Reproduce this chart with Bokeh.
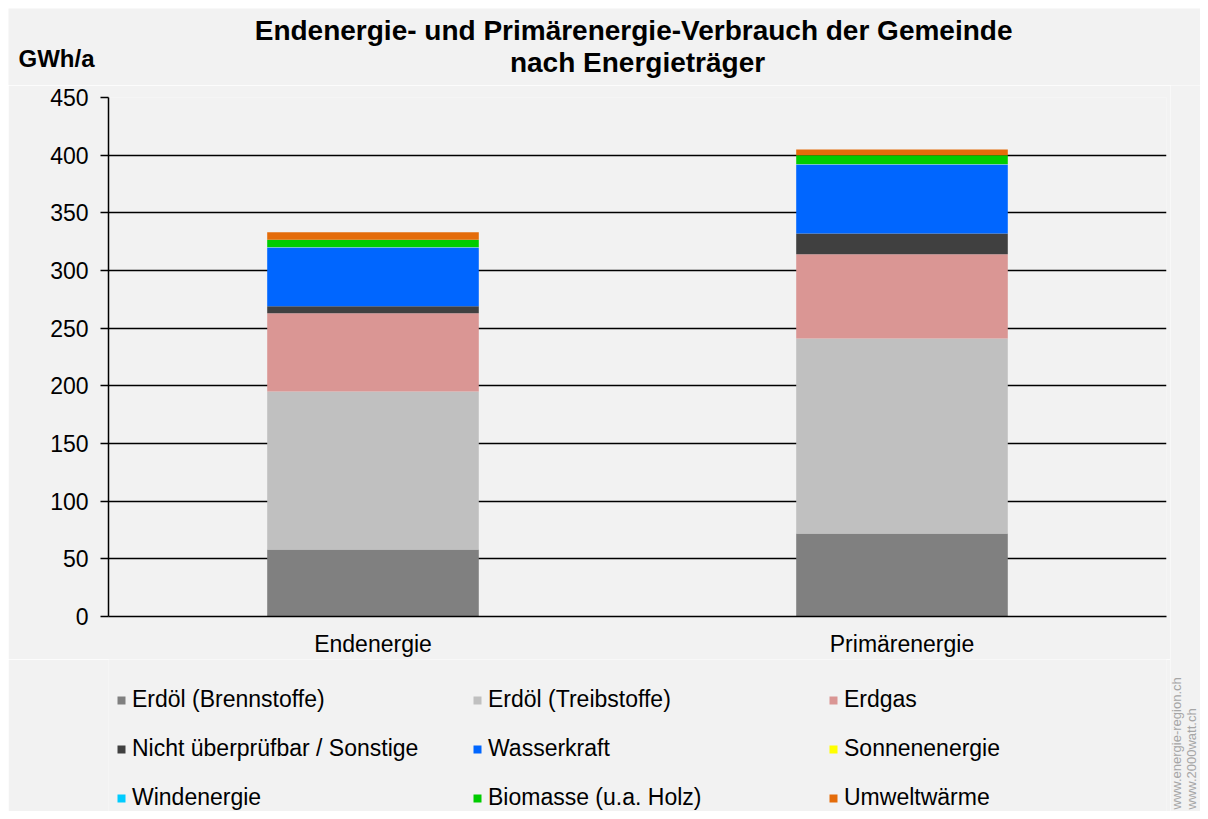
from bokeh.plotting import figure
from bokeh.models import FactorRange, Range1d, FixedTicker, Legend, LegendItem, Label, Spacer
from bokeh.layouts import column, row
from bokeh.embed import file_html
from bokeh.resources import INLINE
import math

categories = ["Endenergie", "Primärenergie"]
series_names = ["Erdöl (Brennstoffe)", "Erdöl (Treibstoffe)", "Erdgas",
                "Nicht überprüfbar / Sonstige", "Wasserkraft", "Sonnenenergie",
                "Windenergie", "Biomasse (u.a. Holz)", "Umweltwärme"]
erdoel_brenn = [58, 72]
erdoel_treib = [137, 169]
erdgas = [68, 73]
nicht_pruefbar = [6, 18]
wasserkraft = [51, 60]
sonnenenergie = [0.2, 0.2]
windenergie = [0.1, 0.1]
biomasse = [6.3, 7.7]
umweltwaerme = [6.6, 5]
y_ticks = [0, 50, 100, 150, 200, 250, 300, 350, 400, 450]
title_lines = ["Endenergie- und Primärenergie-Verbrauch  der Gemeinde", "nach Energieträger"]
unit_text = "GWh/a"
watermark_lines = ["www.energie-region.ch", "www.2000watt.ch"]

colors = ["#808080", "#c0c0c0", "#da9694", "#404040", "#0066ff",
          "#ffff00", "#00ccff", "#00cc00", "#e46c0a"]
keys = ["s%d" % i for i in range(9)]
values = [erdoel_brenn, erdoel_treib, erdgas, nicht_pruefbar, wasserkraft,
          sonnenenergie, windenergie, biomasse, umweltwaerme]
data = {"cat": categories}
for k, v in zip(keys, values):
    data[k] = v

BG = "#f2f2f2"
FONT = "Liberation Sans"


def blank_fig(w, h, x_range=None, y_range=None):
    f = figure(width=w, height=h,
               x_range=x_range if x_range is not None else Range1d(0, 1),
               y_range=y_range if y_range is not None else Range1d(0, 1),
               output_backend="svg", toolbar_location=None, min_border=0)
    f.axis.visible = False
    f.grid.visible = False
    f.outline_line_color = None
    f.background_fill_color = BG
    f.border_fill_color = BG
    return f


# header with title and unit
header = blank_fig(1192, 77)
header.add_layout(Label(x=629, y=55, x_units="screen", y_units="screen", text=title_lines[0],
                        text_align="center", text_baseline="middle", text_font=FONT,
                        text_font_size="28px", text_font_style="bold", text_color="#000000"))
header.add_layout(Label(x=629, y=23, x_units="screen", y_units="screen", text=title_lines[1],
                        text_align="center", text_baseline="middle", text_font=FONT,
                        text_font_size="28px", text_font_style="bold", text_color="#000000"))
header.add_layout(Label(x=10, y=27, x_units="screen", y_units="screen", text=unit_text,
                        text_align="left", text_baseline="middle", text_font=FONT,
                        text_font_size="24px", text_font_style="bold", text_color="#000000"))

# main chart
p = figure(x_range=FactorRange(factors=categories), y_range=Range1d(0, 450),
           width=1162, height=574, output_backend="svg", toolbar_location=None,
           min_border_left=100, min_border_right=4, min_border_top=12,
           min_border_bottom=40)
p.background_fill_color = BG
p.border_fill_color = BG
p.outline_line_color = None

p.vbar_stack(keys, x="cat", width=0.4, source=data, color=colors, line_color=None)

p.yaxis.ticker = FixedTicker(ticks=y_ticks)
p.yaxis.axis_line_color = "#000000"
p.yaxis.axis_line_width = 1.5
p.yaxis.major_tick_line_color = "#000000"
p.yaxis.major_tick_line_width = 1.5
p.yaxis.major_tick_out = 8
p.yaxis.major_tick_in = 0
p.yaxis.minor_tick_line_color = None
p.yaxis.major_label_text_font = FONT
p.yaxis.major_label_text_font_size = "23px"
p.yaxis.major_label_text_color = "#000000"
p.yaxis.major_label_standoff = 12

p.xaxis.axis_line_color = "#000000"
p.xaxis.axis_line_width = 1.5
p.xaxis.major_tick_line_color = None
p.xaxis.major_tick_out = 0
p.xaxis.major_tick_in = 0
p.xaxis.major_label_text_font = FONT
p.xaxis.major_label_text_font_size = "23px"
p.xaxis.major_label_text_color = "#000000"
p.xaxis.major_label_standoff = 14

p.xgrid.grid_line_color = None
p.ygrid.ticker = FixedTicker(ticks=y_ticks)
p.ygrid.grid_line_color = "#000000"
p.ygrid.grid_line_width = 1.5

# legend strip (same series, zero-width and far out of view; legend shows their swatches)
footer = blank_fig(1162, 152, x_range=FactorRange(factors=categories),
                   y_range=Range1d(-1000, -999))
legend_renderers = footer.vbar_stack(keys, x="cat", width=0, source=data,
                                     color=colors, line_color=None)
items = [LegendItem(label=n, renderers=[r]) for n, r in zip(series_names, legend_renderers)]
legend = Legend(items=items, location=(8, 0), orientation="horizontal", ncols=3,
                background_fill_alpha=0, border_line_color=None, padding=0, margin=0,
                glyph_width=10, glyph_height=10, label_standoff=6,
                label_text_font=FONT, label_text_font_size="23px",
                label_text_color="#000000", label_height=27, label_width=318,
                spacing=22)
footer.add_layout(legend, "center")

# watermark strip
strip = blank_fig(30, 726)
strip.add_layout(Label(x=6, y=2, x_units="screen", y_units="screen", text=watermark_lines[0],
                       angle=math.pi / 2, text_align="left", text_baseline="middle",
                       text_font=FONT, text_font_size="13px", text_color="#a6a6a6"))
strip.add_layout(Label(x=21, y=2, x_units="screen", y_units="screen", text=watermark_lines[1],
                       angle=math.pi / 2, text_align="left", text_baseline="middle",
                       text_font=FONT, text_font_size="13px", text_color="#a6a6a6"))

layout = column(Spacer(height=8),
                row(Spacer(width=8), header),
                row(Spacer(width=8), column(p, footer), strip))

open("out.html", "w").write(file_html(layout, INLINE))
